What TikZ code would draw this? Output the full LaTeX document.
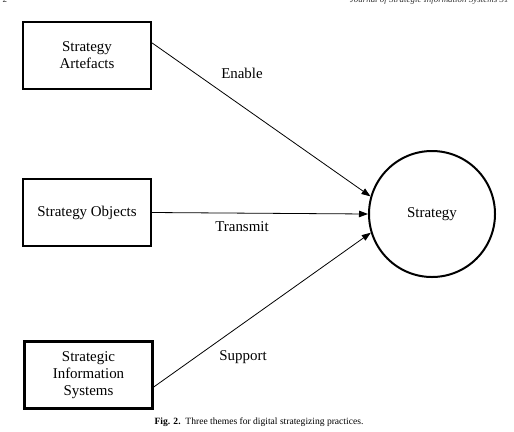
\documentclass[tikz,border=0pt]{standalone}
\usepackage{fontspec}
\setmainfont{Liberation Serif}
\usetikzlibrary{arrows.meta}
\begin{document}
\begin{tikzpicture}[x=1bp,y=-1bp,
  themebox/.style={draw,line width=2.4bp,minimum width=128bp,minimum height=67bp,align=center,font=\fontsize{15}{17}\selectfont,inner sep=2bp},
  stratcircle/.style={draw,circle,line width=2bp,minimum size=126bp,font=\fontsize{15}{17}\selectfont},
  conn/.style={line width=0.8bp,-{Triangle[length=9bp,width=6.5bp]}},
  lbl/.style={font=\fontsize{15}{17}\selectfont}]
\useasboundingbox (0,0) rectangle (514,431);
\clip (0,0) rectangle (514,431);
\node[anchor=base east,font=\itshape\fontsize{9}{10}\selectfont,text=black!80] (hdr) at (512,2.5) {Journal of Strategic Information Systems 31};
\node[anchor=base west,font=\fontsize{9}{10}\selectfont,text=black!80] (pg) at (-1,2.5) {2};
\node[themebox] (b1) at (87,55.5) {Strategy\\Artefacts};
\node[themebox] (b2) at (87,212.5) {Strategy Objects};
\node[themebox] (b3) at (88.5,375) {Strategic\\Information\\Systems};
\node[stratcircle] (c) at (432,214) {Strategy};
\draw[conn] ([yshift=12.5bp]b1.east) -- (c.164);
\draw[conn] (b2.east) -- (c.west);
\draw[conn] ([yshift=-12bp]b3.east) -- (c.197);
\node[lbl] (l1) at (242,73) {Enable};
\node[lbl] (l2) at (242,227) {Transmit};
\node[lbl] (l3) at (243,357) {Support};
\node[font=\fontsize{9.6}{11}\selectfont] (cap) at (259,422) {\textbf{Fig. 2.}\ \ Three themes for digital strategizing practices.};
\end{tikzpicture}
\end{document}
